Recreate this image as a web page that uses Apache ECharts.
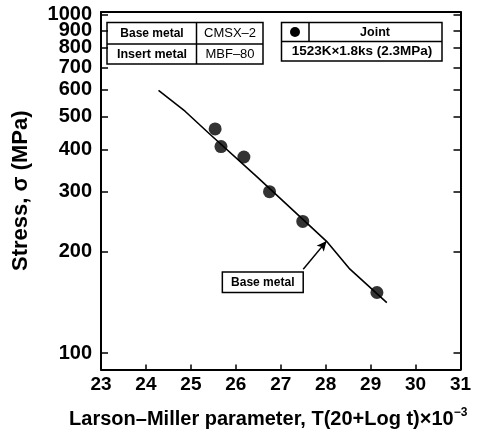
<!DOCTYPE html>
<html><head><meta charset="utf-8">
<script src="https://cdn.jsdelivr.net/npm/echarts@6/dist/echarts.min.js"></script>
<style>html,body{margin:0;padding:0;background:#fff}#c{width:478px;height:434px}</style>
</head><body><div id="c"></div>
<script>
// Data
const jointLMP = [25.54, 25.67, 26.18, 26.75, 27.49, 29.14];
const jointStress = [460, 408, 380, 300, 245, 151];
const baseLMP = [24.28, 24.87, 25.43, 26.46, 28.02, 28.54, 29.36];
const baseStress = [598, 519, 443, 333, 214, 177, 141];
const yTickValues = [100, 200, 300, 400, 500, 600, 700, 800, 900, 1000];
const xMin = 23, xMax = 31, xStep = 1;
const yMin = 89.4, yMax = 1020;

const L = Math.log10;
const FONT = 'Liberation Sans, Arial, sans-serif';
const tickVals = yTickValues.map(L);
// labels split over two overlaid axes so the crowded 900/1000 labels both show
const labelValsA = yTickValues.filter(v => v !== 900).map(L);
const labelValsB = yTickValues.filter(v => v === 900).map(L);

const chart = echarts.init(document.getElementById('c'), null, {renderer: 'canvas'});
const axisLineStyle = {color: '#000', width: 2};
const labelStyle = {color: '#000', fontFamily: FONT, fontWeight: 'bold', fontSize: 20, margin: 9,
  showMinLabel: true, showMaxLabel: true, formatter: v => String(Math.round(Math.pow(10, v)))};
const yAxisBase = {
  type: 'value', min: L(yMin), max: L(yMax),
  axisLine: {show: true, lineStyle: axisLineStyle},
  splitLine: {show: false},
  axisTick: {show: true, inside: true, length: 7, lineStyle: {color: '#000', width: 1.5}, customValues: tickVals},
};
chart.setOption({
  animation: false,
  backgroundColor: '#fff',
  grid: {left: 101, right: 17.5, top: 12, bottom: 63.5, containLabel: false},
  xAxis: [{
    type: 'value', min: xMin, max: xMax, interval: xStep,
    axisLine: {show: true, onZero: false, lineStyle: axisLineStyle},
    axisTick: {show: true, inside: true, length: 5, lineStyle: {color: '#000', width: 1.5}},
    splitLine: {show: false},
    axisLabel: {color: '#000', fontFamily: FONT, fontWeight: 'bold', fontSize: 19, margin: 6, showMinLabel: true, showMaxLabel: true},
    name: '{a|Larson\u2013Miller parameter, T(20+Log t)\u00d710}{s|\u22123}',
    nameLocation: 'middle', nameGap: 37,
    nameTextStyle: {
      padding: [0, 25, 0, 0],
      rich: {
        a: {color: '#000', fontFamily: FONT, fontWeight: 'bold', fontSize: 20},
        s: {color: '#000', fontFamily: FONT, fontWeight: 'bold', fontSize: 12, padding: [0, 0, 13, 0]}
      }
    }
  }, {
    type: 'value', position: 'top', min: xMin, max: xMax, interval: xStep,
    axisLine: {show: true, onZero: false, lineStyle: axisLineStyle},
    axisTick: {show: false}, axisLabel: {show: false}, splitLine: {show: false}
  }],
  yAxis: [Object.assign({}, yAxisBase, {
    position: 'left',
    axisLabel: Object.assign({}, labelStyle, {customValues: labelValsA}),
    name: 'Stress, \u03c3 (MPa)', nameLocation: 'middle', nameGap: 69,
    nameTextStyle: {color: '#000', fontFamily: FONT, fontWeight: 'bold', fontSize: 22}
  }), Object.assign({}, yAxisBase, {
    position: 'right', axisLabel: {show: false}
  }), {
    type: 'value', position: 'left', offset: 0, min: L(yMin), max: L(yMax),
    axisLine: {show: false}, axisTick: {show: false}, splitLine: {show: false},
    axisLabel: Object.assign({}, labelStyle, {customValues: labelValsB})
  }],
  series: [{
    name: 'Base metal', type: 'line', xAxisIndex: 0, yAxisIndex: 0,
    data: baseLMP.map((x, i) => [x, L(baseStress[i])]),
    showSymbol: false, symbol: 'none', smooth: false,
    lineStyle: {color: '#000', width: 1.6},
    markLine: {
      silent: true, symbol: ['none', 'arrow'], symbolSize: [7, 10],
      lineStyle: {color: '#000', width: 1.5, type: 'solid'}, label: {show: false},
      data: [[{coord: [27.50, 2.248]}, {coord: [28.02, 2.331]}]]
    },
    markPoint: {
      silent: true, symbol: 'rect', symbolSize: 1,
      itemStyle: {color: 'rgba(0,0,0,0)'},
      label: {show: true, position: 'inside', formatter: 'Base metal', color: '#000',
        fontFamily: FONT, fontWeight: 'bold', fontSize: 12,
        backgroundColor: '#fff', borderColor: '#000', borderWidth: 1.5, padding: [4, 8, 3, 8]},
      data: [{coord: [26.60, 2.209]}]
    }
  }, {
    name: 'Joint', type: 'scatter', xAxisIndex: 0, yAxisIndex: 0,
    data: jointLMP.map((x, i) => [x, L(jointStress[i])]),
    symbol: 'circle', symbolSize: 13, itemStyle: {color: '#000'}, z: 5
  }],
  graphic: [
    // Table 1
    {type: 'rect', shape: {x: 107, y: 22.5, width: 156, height: 41.5}, style: {fill: '#fff', stroke: '#000', lineWidth: 1.5}},
    {type: 'line', shape: {x1: 107, y1: 44, x2: 263, y2: 44}, style: {stroke: '#000', lineWidth: 1.5}},
    {type: 'line', shape: {x1: 196.5, y1: 22.5, x2: 196.5, y2: 64}, style: {stroke: '#000', lineWidth: 1.5}},
    {type: 'text', x: 152, y: 33.5, style: {text: 'Base metal', font: 'bold 12px ' + FONT, fill: '#000', align: 'center', verticalAlign: 'middle'}},
    {type: 'text', x: 152, y: 54.5, style: {text: 'Insert metal', font: 'bold 12.5px ' + FONT, fill: '#000', align: 'center', verticalAlign: 'middle'}},
    {type: 'text', x: 230, y: 33.5, style: {text: 'CMSX\u20132', font: '13px ' + FONT, fill: '#000', align: 'center', verticalAlign: 'middle'}},
    {type: 'text', x: 230, y: 54.5, style: {text: 'MBF\u201380', font: '13px ' + FONT, fill: '#000', align: 'center', verticalAlign: 'middle'}},
    // Table 2
    {type: 'rect', shape: {x: 281.5, y: 22.5, width: 160.5, height: 38.5}, style: {fill: '#fff', stroke: '#000', lineWidth: 1.5}},
    {type: 'line', shape: {x1: 281.5, y1: 41.5, x2: 442, y2: 41.5}, style: {stroke: '#000', lineWidth: 1.5}},
    {type: 'line', shape: {x1: 309, y1: 22.5, x2: 309, y2: 41.5}, style: {stroke: '#000', lineWidth: 1.5}},
    {type: 'circle', shape: {cx: 295, cy: 32, r: 5}, style: {fill: '#000'}},
    {type: 'text', x: 375, y: 32.5, style: {text: 'Joint', font: 'bold 12.5px ' + FONT, fill: '#000', align: 'center', verticalAlign: 'middle'}},
    {type: 'text', x: 362, y: 51.5, style: {text: '1523K\u00d71.8ks (2.3MPa)', font: 'bold 13.5px ' + FONT, fill: '#000', align: 'center', verticalAlign: 'middle'}}
  ]
});
</script></body></html>
